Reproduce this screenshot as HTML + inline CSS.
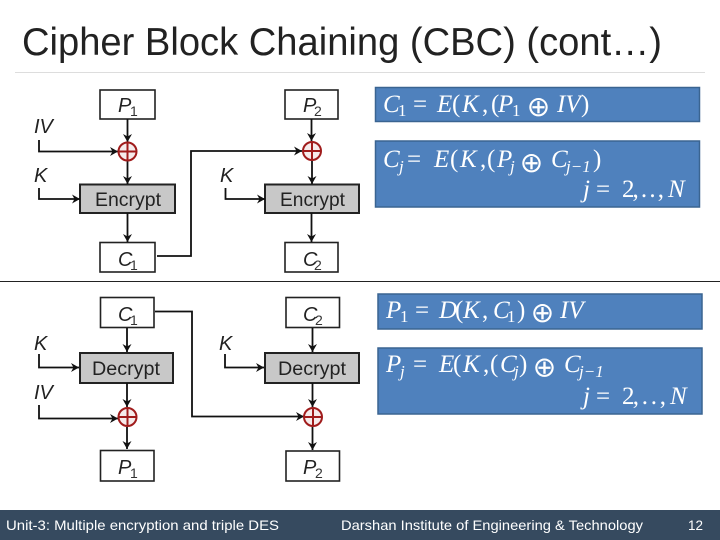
<!DOCTYPE html>
<html><head><meta charset="utf-8"><style>
html,body{margin:0;padding:0;background:#fff}
svg{display:block;filter:blur(.3px)}
.l{font-family:"Liberation Sans",sans-serif;font-style:italic;font-size:20px;fill:#222}
.s{font-family:"Liberation Sans",sans-serif;font-size:14px;fill:#333}
.b{font-family:"Liberation Sans",sans-serif;font-size:19px;fill:#222}
.e{font-family:"Liberation Serif",serif;font-size:25px;fill:#fff}
.i{font-style:italic}
.u{font-size:17px}
.o{font-size:28px;text-anchor:middle}
.f{font-family:"Liberation Sans",sans-serif;font-size:14px;fill:#fff}
</style></head><body>
<svg width="720" height="540" viewBox="0 0 720 540" xmlns="http://www.w3.org/2000/svg">
<defs>
<marker id="a" viewBox="0 0 10 10" refX="9" refY="5" markerWidth="10" markerHeight="10" markerUnits="userSpaceOnUse" orient="auto"><path d="M1 0.5L9 5L1 9.500L3.500 5Z" fill="#111"/></marker>
<g id="x"><circle r="9" fill="#f6ecec" stroke="#a01c1c" stroke-width="2"/><path d="M-9 0H9M0-9V9" stroke="#a01c1c" stroke-width="2"/></g>
</defs>
<rect width="720" height="540" fill="#fff"/>
<text x="22" y="55" font-family="Liberation Sans,sans-serif" font-size="39" fill="#222" textLength="640" lengthAdjust="spacingAndGlyphs">Cipher Block Chaining (CBC) (cont…)</text>
<rect x="15" y="72" width="690" height="1" fill="#ddd"/>
<rect x="0" y="281" width="720" height="1" fill="#222"/>

<g fill="#fff" stroke="#222" stroke-width="1.6">
<rect x="100" y="90" width="55" height="29"/><rect x="100" y="242.500" width="55" height="29.500"/>
<rect x="285" y="90" width="53" height="29"/><rect x="285" y="242.500" width="53" height="29.500"/>
<rect x="100.500" y="297.500" width="53.500" height="30"/><rect x="100.500" y="450.500" width="53.500" height="30.500"/>
<rect x="286" y="297.500" width="53.500" height="30"/><rect x="286" y="451" width="53.500" height="30"/>
</g>
<g fill="#c8c8c8" stroke="#222" stroke-width="2">
<rect x="80" y="184.500" width="95" height="28.500"/><rect x="265" y="184.500" width="94" height="28.500"/>
<rect x="80" y="353" width="93" height="30"/><rect x="265" y="353" width="94" height="30"/>
</g>

<g fill="none" stroke="#111" stroke-width="1.800">
<path d="M127.500 119V142" marker-end="url(#a)"/>
<path d="M39 140V151.500H118" marker-end="url(#a)"/>
<path d="M127.500 161V184" marker-end="url(#a)"/>
<path d="M39 188V199H80" marker-end="url(#a)"/>
<path d="M127.500 213V242" marker-end="url(#a)"/>
<path d="M157 256H191V151H302" marker-end="url(#a)"/>
<path d="M311.500 119V141" marker-end="url(#a)"/>
<path d="M312 161V184" marker-end="url(#a)"/>
<path d="M225.500 188V199H265" marker-end="url(#a)"/>
<path d="M311.500 213V242" marker-end="url(#a)"/>

<path d="M127 328V352" marker-end="url(#a)"/>
<path d="M39 354V367.500H79" marker-end="url(#a)"/>
<path d="M127 383V407" marker-end="url(#a)"/>
<path d="M39 405V418.500H118" marker-end="url(#a)"/>
<path d="M127 427V449" marker-end="url(#a)"/>
<path d="M155 311.500H192V416.500H304" marker-end="url(#a)"/>
<path d="M312.500 328V352" marker-end="url(#a)"/>
<path d="M225 354V367.500H264" marker-end="url(#a)"/>
<path d="M312.500 383V407" marker-end="url(#a)"/>
<path d="M312.500 427V450" marker-end="url(#a)"/>
</g>
<use href="#x" x="127.500" y="151.500"/><use href="#x" x="312" y="151"/>
<use href="#x" x="127.500" y="417"/><use href="#x" x="313" y="417"/>

<text class="l" x="118" y="112">P</text><text class="s" x="130" y="116">1</text>
<text class="l" x="303" y="112">P</text><text class="s" x="314" y="116">2</text>
<text class="l" x="118" y="266">C</text><text class="s" x="130" y="270">1</text>
<text class="l" x="303" y="266">C</text><text class="s" x="314" y="270">2</text>
<text class="l" x="118" y="321">C</text><text class="s" x="130" y="325">1</text>
<text class="l" x="303" y="321">C</text><text class="s" x="315" y="325">2</text>
<text class="l" x="118" y="474">P</text><text class="s" x="130" y="478">1</text>
<text class="l" x="303" y="474">P</text><text class="s" x="315" y="478">2</text>
<text class="l" x="34" y="133">IV</text><text class="l" x="34" y="182">K</text>
<text class="l" x="220" y="182">K</text><text class="l" x="34" y="350">K</text>
<text class="l" x="219" y="350">K</text><text class="l" x="34" y="399">IV</text>
<text class="b" x="95" y="206" textLength="66" lengthAdjust="spacingAndGlyphs">Encrypt</text>
<text class="b" x="280" y="206" textLength="65" lengthAdjust="spacingAndGlyphs">Encrypt</text>
<text class="b" x="92" y="375" textLength="68" lengthAdjust="spacingAndGlyphs">Decrypt</text>
<text class="b" x="278" y="375" textLength="68" lengthAdjust="spacingAndGlyphs">Decrypt</text>

<g fill="#4f81bd" stroke="#3a6491" stroke-width="1.500">
<rect x="375.500" y="87.500" width="324" height="34"/>
<rect x="375.500" y="141" width="324" height="66"/>
<rect x="378" y="294" width="324" height="35"/>
<rect x="378" y="348" width="324" height="66"/>
</g>

<g>
<text class="e i" x="383" y="112">C</text><text class="e u" x="398" y="116">1</text><text class="e" x="413" y="112">=</text>
<text class="e i" x="437" y="112">E</text><text class="e" x="452" y="112">(</text><text class="e i" x="462" y="112">K</text><text class="e" x="482" y="112">,</text><text class="e" x="491" y="112">(</text><text class="e i" x="498" y="112">P</text><text class="e u" x="512" y="116">1</text><text class="e o" x="538.500" y="116">⊕</text><text class="e i" x="557" y="112">IV</text><text class="e" x="581" y="112">)</text>

<text class="e i" x="383" y="167">C</text><text class="e i u" x="399" y="172">j</text><text class="e" x="407" y="167">=</text>
<text class="e i" x="434" y="167">E</text><text class="e" x="450" y="167">(</text><text class="e i" x="460" y="167">K</text><text class="e" x="480" y="167">,</text><text class="e" x="487" y="167">(</text><text class="e i" x="497" y="167">P</text><text class="e i u" x="510" y="172">j</text><text class="e o" x="531.500" y="172">⊕</text><text class="e i" x="551" y="167">C</text><text class="e i u" x="566" y="172">j−1</text><text class="e" x="593" y="167">)</text>
<text class="e i" x="583" y="197">j</text><text class="e" x="596" y="197">=</text><text class="e" x="622" y="197" textLength="42">2, . . ,</text><text class="e i" x="668" y="197">N</text>

<text class="e i" x="386" y="318">P</text><text class="e u" x="400" y="322">1</text><text class="e" x="415" y="318">=</text>
<text class="e i" x="439" y="318">D</text><text class="e" x="455" y="318">(</text><text class="e i" x="463" y="318">K</text><text class="e" x="482" y="318">,</text><text class="e i" x="493" y="318">C</text><text class="e u" x="507" y="322">1</text><text class="e" x="517" y="318">)</text><text class="e o" x="542.500" y="322">⊕</text><text class="e i" x="560" y="318">IV</text>

<text class="e i" x="386" y="372">P</text><text class="e i u" x="400" y="377">j</text><text class="e" x="413" y="372">=</text>
<text class="e i" x="439" y="372">E</text><text class="e" x="453" y="372">(</text><text class="e i" x="463" y="372">K</text><text class="e" x="483" y="372">,</text><text class="e" x="490" y="372">(</text><text class="e i" x="500" y="372">C</text><text class="e i u" x="514" y="377">j</text><text class="e" x="519" y="372">)</text><text class="e o" x="544.500" y="376.500">⊕</text><text class="e i" x="564" y="372">C</text><text class="e i u" x="579" y="377">j−1</text>
<text class="e i" x="583" y="404">j</text><text class="e" x="596" y="404">=</text><text class="e" x="622" y="404" textLength="44">2, . . ,</text><text class="e i" x="670" y="404">N</text>
</g>

<rect x="0" y="510" width="720" height="30" fill="#364a5f"/>
<text class="f" x="6" y="530" textLength="273" lengthAdjust="spacingAndGlyphs">Unit-3: Multiple encryption and triple DES</text>
<text class="f" x="341" y="530" textLength="302" lengthAdjust="spacingAndGlyphs">Darshan Institute of Engineering &amp; Technology</text>
<text class="f" x="688" y="530" textLength="15" lengthAdjust="spacingAndGlyphs">12</text>
</svg>
</body></html>
